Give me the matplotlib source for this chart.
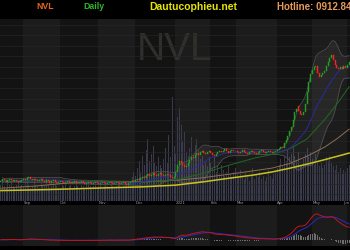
import numpy as np
import pandas as pd
import matplotlib
matplotlib.use('Agg')
import matplotlib.pyplot as plt
from matplotlib.transforms import blended_transform_factory

# trading days per month shown on the chart (Aug 2020 partial .. Jun 2021 partial)
month_labels = ['', 'Sep', 'Oct', 'Nov', 'Dec', '2021', 'Feb', 'Mar', 'Apr', 'May', 'Jun']
month_days = [13, 21, 22, 21, 23, 20, 15, 23, 20, 20, 2]

# daily closes (thousand VND)
closes = [
    62.0, 62.9, 62.3, 61.5, 62.4, 63.1, 62.6, 61.9, 62.5, 61.8, 61.2, 62.0, 62.7,
    63.2, 62.5, 63.4, 64.0, 63.3, 62.6, 63.1, 62.4, 61.8, 62.5, 63.0, 62.2, 61.6, 62.3, 61.7, 61.1, 61.8, 62.4, 61.6, 61.0, 61.5,
    62.1, 61.4, 60.8, 61.5, 62.0, 61.3, 60.7, 61.4, 61.9, 61.2, 60.6, 61.3, 61.8, 61.0, 60.4, 61.1, 61.6, 60.9, 60.3, 61.0, 61.5, 60.8,
    60.2, 60.9, 61.5, 60.8, 60.3, 61.0, 61.6, 60.9, 60.2, 60.7, 61.4, 60.6, 60.1, 60.8, 61.3, 60.5, 60.0, 60.8, 61.5, 62.2, 61.6,
    62.5, 63.3, 62.6, 63.5, 64.4, 63.7, 64.8, 65.6, 64.7, 65.4, 66.2, 65.3, 64.6, 65.5, 66.1, 65.2, 64.5, 65.3, 66.0, 65.1, 64.2, 63.5, 64.3,
    66.8, 70.5, 73.0, 72.0, 70.6, 69.5, 70.2, 71.8, 73.6, 75.2, 74.3, 76.0, 77.5, 76.4, 77.8, 78.6, 77.3, 76.5, 77.9, 78.4,
    77.2, 76.1, 75.5, 76.6, 77.7, 78.5, 77.6, 78.4, 79.2, 78.3, 77.5, 78.2, 79.0, 78.1, 78.6,
    77.8, 77.0, 77.9, 78.7, 78.0, 77.3, 76.8, 77.7, 78.5, 77.9, 77.1, 76.6, 77.4, 78.2, 78.8, 77.9, 77.2, 77.8, 78.5, 77.8, 77.1, 77.6, 78.4,
    79.0, 79.6, 80.8, 80.2, 82.5, 84.6, 86.8, 89.2, 91.5, 95.2, 99.8, 101.6, 100.1, 98.8, 98.0, 99.7, 104.3, 110.6, 116.2, 120.6,
    122.8, 124.3, 125.0, 120.8, 118.6, 119.8, 121.2, 122.3, 124.8, 126.9, 129.3, 130.8, 127.9, 125.3, 123.8, 123.0, 124.4, 123.3, 124.7, 123.9,
    125.6, 127.0,
]
opens = [
    61.6, 62.0, 62.9, 62.3, 61.5, 62.4, 63.1, 62.6, 61.9, 62.5, 61.8, 61.2, 62.0,
    62.7, 63.2, 62.5, 63.4, 64.0, 63.3, 62.6, 63.1, 62.4, 61.8, 62.5, 63.0, 62.2, 61.6, 62.3, 61.7, 61.1, 61.8, 62.4, 61.6, 61.0,
    61.5, 62.1, 61.4, 60.8, 61.5, 62.0, 61.3, 60.7, 61.4, 61.9, 61.2, 60.6, 61.3, 61.8, 61.0, 60.4, 61.1, 61.6, 60.9, 60.3, 61.0, 61.5,
    60.8, 60.2, 60.9, 61.5, 60.8, 60.3, 61.0, 61.6, 60.9, 60.2, 60.7, 61.4, 60.6, 60.1, 60.8, 61.3, 60.5, 60.0, 60.8, 61.5, 62.2,
    61.6, 62.5, 63.3, 62.6, 63.5, 64.4, 63.7, 64.8, 65.6, 64.7, 65.4, 66.2, 65.3, 64.6, 65.5, 66.1, 65.2, 64.5, 65.3, 66.0, 65.1, 64.2, 63.5,
    64.3, 66.8, 70.5, 73.0, 72.0, 70.6, 69.5, 70.2, 71.8, 73.6, 75.2, 74.3, 76.0, 77.5, 76.4, 77.8, 78.6, 77.3, 76.5, 77.9,
    78.4, 77.2, 76.1, 75.5, 76.6, 77.7, 78.5, 77.6, 78.4, 79.2, 78.3, 77.5, 78.2, 79.0, 78.1,
    78.6, 77.8, 77.0, 77.9, 78.7, 78.0, 77.3, 76.8, 77.7, 78.5, 77.9, 77.1, 76.6, 77.4, 78.2, 78.8, 77.9, 77.2, 77.8, 78.5, 77.8, 77.1, 77.6,
    78.4, 79.0, 79.6, 80.8, 80.2, 82.5, 84.6, 86.8, 89.2, 91.5, 95.2, 99.8, 103.0, 100.1, 98.8, 98.0, 99.7, 104.3, 110.6, 116.2,
    120.6, 122.8, 124.3, 125.0, 120.8, 118.6, 119.8, 121.2, 122.3, 124.8, 126.9, 129.3, 130.8, 127.9, 125.3, 123.8, 123.0, 124.4, 123.3, 124.7,
    123.9, 125.6,
]
# volume, million shares
volumes = [
    0.9, 1.1, 0.8, 0.7, 1.0, 0.9, 1.2, 0.8, 0.7, 0.9, 1.0, 0.8, 0.9,
    0.8, 1.0, 1.3, 0.9, 0.7, 0.8, 1.1, 0.9, 0.8, 0.7, 1.0, 0.9, 0.8, 1.2, 0.9, 0.7, 0.8, 1.0, 0.9, 0.8, 0.7,
    0.7, 0.9, 0.8, 1.0, 0.7, 0.8, 0.9, 0.7, 0.8, 1.1, 0.8, 0.7, 0.9, 0.8, 0.7, 0.9, 1.0, 0.8, 0.7, 0.8, 0.9, 0.7,
    0.8, 0.9, 0.7, 0.8, 1.0, 0.8, 0.7, 0.9, 0.8, 0.7, 0.8, 1.0, 0.9, 0.7, 0.8, 0.9, 0.8, 1.1, 1.0, 1.3, 1.6,
    1.4, 1.8, 2.2, 1.6, 2.5, 2.0, 2.8, 3.4, 2.2, 2.6, 3.0, 2.1, 1.9, 2.4, 2.0, 1.8, 2.3, 2.9, 2.1, 3.6, 2.4, 5.7, 3.0,
    2.6, 4.6, 5.1, 4.2, 3.3, 3.8, 2.7, 2.5, 2.9, 3.5, 2.6, 3.1, 3.4, 2.8, 2.3, 2.5, 2.0, 2.2, 1.9, 2.4,
    2.1, 1.8, 2.4, 1.6, 1.9, 1.5, 2.0, 1.7, 1.4, 1.6, 1.9, 1.5, 1.3, 1.6, 1.8,
    1.5, 1.3, 1.7, 1.4, 1.2, 1.6, 1.3, 1.1, 1.4, 1.8, 1.2, 1.5, 1.3, 1.6, 1.2, 1.4, 1.1, 1.3, 1.7, 1.4, 1.2, 1.5, 1.6,
    1.8, 2.0, 2.3, 1.9, 2.5, 2.2, 2.8, 2.4, 2.6, 3.0, 2.5, 2.2, 2.7, 2.0, 1.9, 2.3, 2.6, 2.9, 2.4, 2.7,
    2.3, 2.0, 2.6, 2.2, 1.9, 2.1, 1.8, 2.0, 2.4, 2.2, 2.5, 2.1, 1.9, 1.7, 2.0, 1.6, 1.8, 1.5, 1.7, 1.6,
    1.8, 2.0,
]

# slow moving averages at some sample days
ma_days = [0, 20, 40, 60, 80, 100, 115, 130, 145, 155, 165, 175, 185, 192, 199]
ma50 = [61.5, 62.0, 62.0, 61.5, 61.2, 62.5, 66.0, 70.5, 74.5, 76.5, 79.5, 85.0, 95.5, 104.0, 113.5]
ma100 = [58.0, 59.2, 61.0, 61.3, 61.4, 62.3, 63.7, 65.6, 67.6, 69.0, 71.5, 75.5, 80.5, 85.0, 90.3]
ma200 = [56.7, 57.1, 57.6, 58.2, 58.7, 59.7, 61.4, 63.4, 65.3, 66.9, 68.9, 71.2, 73.6, 75.4, 77.2]

# indicators
s = pd.Series(closes)
ma20 = s.rolling(20, min_periods=1).mean()
sd = s.rolling(20, min_periods=2).std()
bb_up = ma20 + 2 * sd
bb_lo = ma20 - 2 * sd
macd = s.ewm(span=12, adjust=False).mean() - s.ewm(span=26, adjust=False).mean()
signal = macd.ewm(span=9, adjust=False).mean()
hist = macd - signal

x = np.arange(len(closes))
o = np.array(opens)
c = np.array(closes)
n = len(closes)

fig = plt.figure(figsize=(3.5, 2.5), dpi=100, facecolor='black')
rect = [0, 49 / 250, 1, 182 / 250]
axv = fig.add_axes(rect)              # background: stripes + volume
ax = fig.add_axes(rect, sharex=axv)   # price on top
axm = fig.add_axes([0, 4 / 250, 1, 41 / 250], sharex=axv)

starts = np.cumsum([0] + month_days[:-1]) - 0.5
ends = starts + np.array(month_days)
for a in (axv, axm):
    a.set_facecolor('#131313')
    for i, (s0, e0) in enumerate(zip(starts, ends)):
        if i % 2 == 1:
            a.axvspan(s0, e0, color='#1c1c1c', lw=0, zorder=0)

axv.text(0.5, 0.775, 'NVL', transform=axv.transAxes, ha='center', va='baseline',
         fontsize=28, color='#2f2f2c', family='Liberation Sans', zorder=0.5)
axv.bar(x, volumes, width=0.6, color='#3a3a4e', zorder=1)
axv.set_ylim(0, 10)

ax.patch.set_visible(False)
ax.set_yticks(np.arange(54.7, 150.5, 5.8))
ax.grid(axis='y', color='#252525', lw=0.5)
ax.fill_between(x, bb_lo, bb_up, color='white', alpha=0.05, lw=0, zorder=2)
ax.plot(x, bb_up, color='#555555', lw=0.5, zorder=3)
ax.plot(x, bb_lo, color='#555555', lw=0.5, zorder=3)
ax.plot(ma_days, ma200, color='#c8c41e', lw=1.1, zorder=3)
ax.plot(ma_days, ma100, color='#8c6e52', lw=0.7, zorder=3)
ax.plot(ma_days, ma50, color='#1f6a1f', lw=0.7, zorder=3)
ax.plot(x, ma20, color='#2a2aa0', lw=0.7, zorder=3)
colors = np.where(c >= o, '#1fa01f', '#ff2020')
ax.bar(x, np.abs(c - o), bottom=np.minimum(o, c), width=0.7, color=colors,
       edgecolor=colors, linewidth=0.3, zorder=5)
ax.set_ylim(51, 150.56)

axm.bar(x, hist, width=0.5, color='#6e6e6e', zorder=1)
axm.plot(x, signal, color='#2a2ac0', lw=0.7, zorder=2)
axm.plot(x, macd, color='#c01818', lw=0.7, zorder=3)
axm.set_ylim(-2.6, 14.5)

for a in (axv, ax, axm):
    a.set_xlim(-0.5, n - 0.5)
    a.tick_params(length=0, labelleft=False, labelbottom=False)
    for sp in a.spines.values():
        sp.set_visible(False)
axv.set_yticks([])
axm.set_yticks([])

trans = blended_transform_factory(ax.transData, ax.transAxes)
for i, (s0, lab) in enumerate(zip(starts, month_labels)):
    if not lab:
        continue
    last = i == len(month_labels) - 1
    ax.text(n - 0.6 if last else s0 + 0.4, -0.011, lab, transform=trans, fontsize=2.8,
            color='#9a9a9a', ha='right' if last else 'left', va='center', clip_on=False)

hdr = dict(family='Liberation Sans', weight='bold', va='baseline')
fig.text(36 / 350, 1 - 9 / 250, 'NVL', color='#e8641e', fontsize=6.3, **hdr)
fig.text(83 / 350, 1 - 9 / 250, 'Daily', color='#2db82d', fontsize=6.3, **hdr)
fig.text(149 / 350, 1 - 9.5 / 250, 'Dautucophieu.net', color='#e6e600', fontsize=7.5, **hdr)
fig.text(277 / 350, 1 - 9.5 / 250, 'Hotline: 0912.84', color='#e89a5a', fontsize=7, **hdr)

fig.savefig('out.png', dpi=100, facecolor='black')
